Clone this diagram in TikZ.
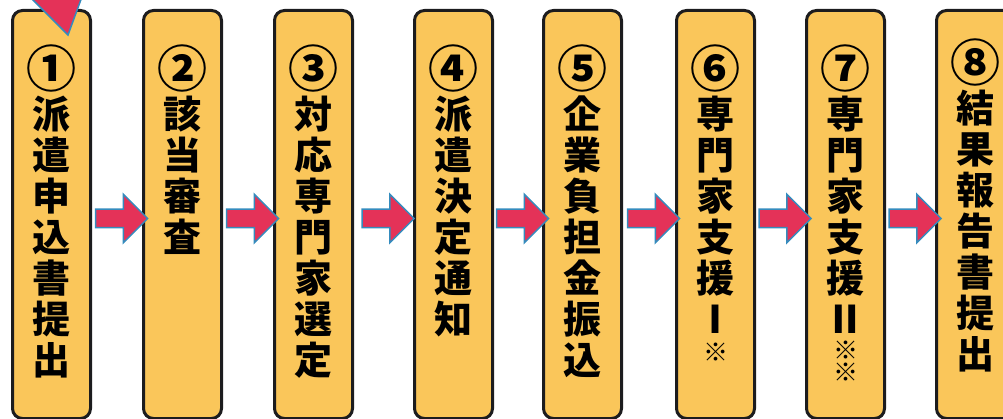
\documentclass[tikz,border=0pt]{standalone}
\usepackage{fontspec}
\usepackage{xcolor}
\usepackage{tikz}
\usetikzlibrary{positioning,shapes.arrows}

\newfontfamily\jpfont{Noto Sans CJK JP Black}
\newcommand{\numbig}[1]{{\fontsize{50}{41}\selectfont #1}}
\newcommand{\kome}{{\fontsize{25}{25}\selectfont ※}}

\definecolor{stepfill}{RGB}{250,198,90}
\definecolor{stepline}{RGB}{28,28,30}
\definecolor{flowred}{RGB}{228,50,88}
\definecolor{flowblue}{RGB}{52,140,190}

\begin{document}
\begin{tikzpicture}[
  x=1pt, y=-1pt,
  stepbox/.style={rectangle, rounded corners=10pt, draw=stepline, line width=3pt, fill=stepfill,
    minimum width=78pt, minimum height=408pt, anchor=north west, inner sep=0pt},
  steptext/.style={font=\jpfont\fontsize{38}{41}\selectfont, align=center, inner sep=0pt, text=black},
  flowarrow/.style={single arrow, fill=flowred, draw=flowblue, line width=1.5pt,
    minimum height=52pt, minimum width=47pt, single arrow head extend=15pt, inner xsep=0pt, inner ysep=8.5pt}
]
\useasboundingbox (0,0) rectangle (1003,419);

% Steps
\node[stepbox] (s1) at (11,9) {};
\node[stepbox] (s2) at (142,9) {};
\node[stepbox] (s3) at (273,9) {};
\node[stepbox] (s4) at (413,9) {};
\node[stepbox] (s5) at (542,9) {};
\node[stepbox] (s6) at (675,9) {};
\node[stepbox] (s7) at (805,9) {};
\node[stepbox] (s8) at (935,9) {};

% Labels
\node[steptext, below=36pt of s1.north, anchor=north] (t1) {\numbig{①}\\派\\遣\\申\\込\\書\\提\\出};
\node[steptext, below=36pt of s2.north, anchor=north] (t2) {\numbig{②}\\該\\当\\審\\査};
\node[steptext, below=36pt of s3.north, anchor=north] (t3) {\numbig{③}\\対\\応\\専\\門\\家\\選\\定};
\node[steptext, below=36pt of s4.north, anchor=north] (t4) {\numbig{④}\\派\\遣\\決\\定\\通\\知};
\node[steptext, below=36pt of s5.north, anchor=north] (t5) {\numbig{⑤}\\企\\業\\負\\担\\金\\振\\込};
\node[steptext, below=36pt of s6.north, anchor=north] (t6) {\numbig{⑥}\\専\\門\\家\\支\\援\\Ⅰ\\[-13pt]\kome};
\node[steptext, below=36pt of s7.north, anchor=north] (t7) {\numbig{⑦}\\専\\門\\家\\支\\援\\Ⅱ\\[-15pt]\kome\\[-19pt]\kome};
\node[steptext, below=30pt of s8.north, anchor=north] (t8) {\numbig{⑧}\\結\\果\\報\\告\\書\\提\\出};

% Arrows
\path ([yshift=-4pt]s1.east) -- node[flowarrow] (a1) {} ([yshift=-4pt]s2.west);
\path ([yshift=-4pt]s2.east) -- node[flowarrow] (a2) {} ([yshift=-4pt]s3.west);
\path ([yshift=-4pt]s3.east) -- node[flowarrow] (a3) {} ([yshift=-4pt]s4.west);
\path ([yshift=-4pt]s4.east) -- node[flowarrow] (a4) {} ([yshift=-4pt]s5.west);
\path ([yshift=-4pt]s5.east) -- node[flowarrow] (a5) {} ([yshift=-4pt]s6.west);
\path ([yshift=-4pt]s6.east) -- node[flowarrow] (a6) {} ([yshift=-4pt]s7.west);
\path ([yshift=-4pt]s7.east) -- node[flowarrow] (a7) {} ([yshift=-4pt]s8.west);

% Start mark
\coordinate (tipL) at (27,-6);
\coordinate (tipR) at (83,-6);
\coordinate (tip) at (68,35);
\filldraw[fill=flowred, draw=flowblue, line width=1.5pt] (tipL) -- (tip) -- (tipR) -- cycle;

\end{tikzpicture}
\end{document}
